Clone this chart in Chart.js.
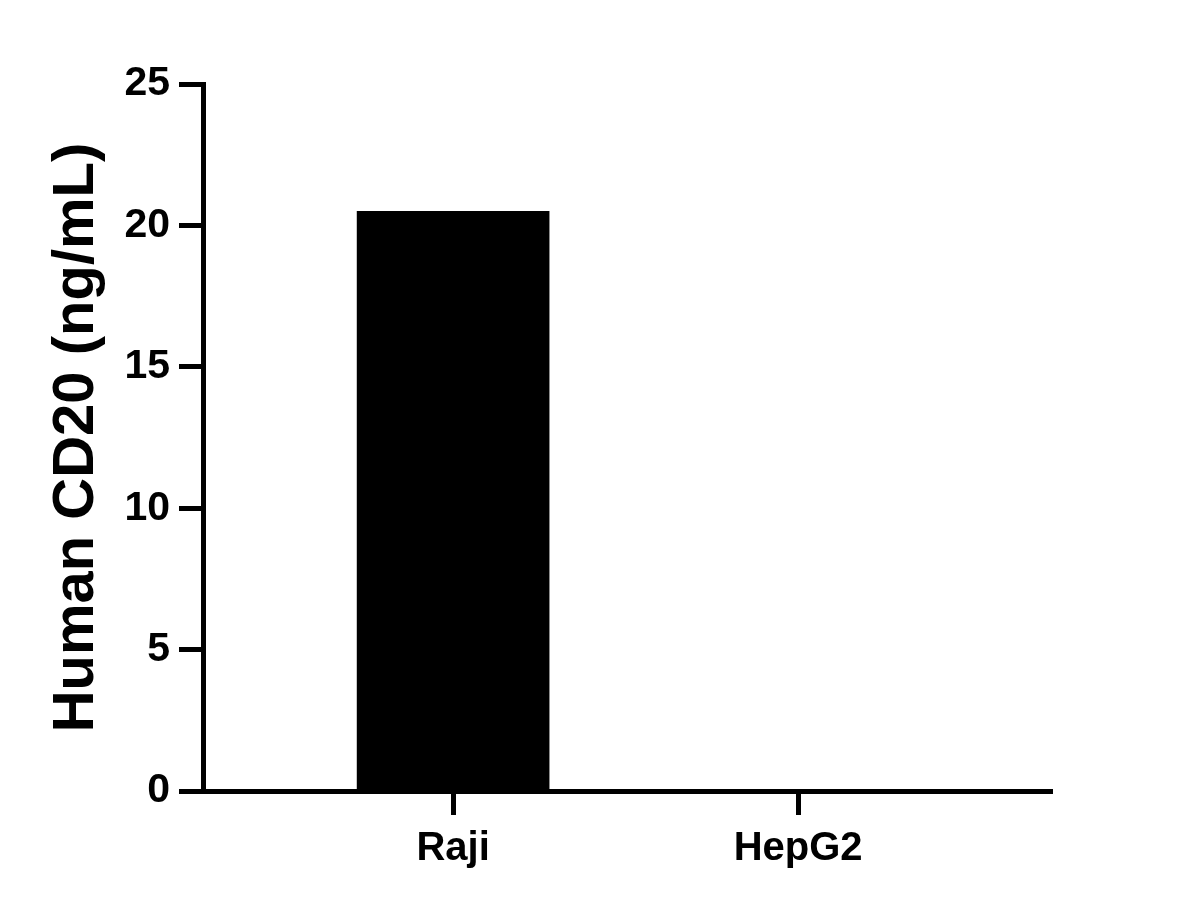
<!DOCTYPE html>
<html>
<head>
<meta charset="utf-8">
<script src="https://cdn.jsdelivr.net/npm/chart.js@4.4.1/dist/chart.umd.min.js"></script>
<style>
  html, body { margin: 0; padding: 0; background: #fff; }
  #wrap { width: 1188px; height: 908px; }
</style>
</head>
<body>
<div id="wrap"><canvas id="cd20Chart" width="1188" height="908"></canvas></div>
<script>
// Dữ liệu của biểu đồ
const categories = ['Raji', 'HepG2'];
const cd20Values = [20.5, 0];
const yTicks = [0, 5, 10, 15, 20, 25];

const FONT = "'Liberation Sans', Arial, sans-serif";

document.addEventListener('DOMContentLoaded', function () {
    const ctx = document.getElementById('cd20Chart');
    const points = categories.map(function (c, i) { return { x: i, y: cd20Values[i] }; });

    new Chart(ctx.getContext('2d'), {
        type: 'bar',
        data: {
            datasets: [{
                label: 'Human CD20 (ng/mL)',
                data: points,
                backgroundColor: '#000000',
                borderWidth: 0,
                barThickness: 192
            }]
        },
        options: {
            responsive: false,
            animation: false,
            layout: { padding: { left: 0, top: 84, right: 136, bottom: 0 } },
            plugins: { legend: { display: false }, tooltip: { enabled: false } },
            scales: {
                x: {
                    type: 'linear',
                    offset: false,
                    bounds: 'data',
                    min: -0.725,
                    max: 1.736,
                    afterBuildTicks: function (scale) {
                        scale.ticks = categories.map(function (c, i) { return { value: i }; });
                    },
                    afterFit: function (scale) { scale.height = 117; },
                    border: { display: true, color: '#000', width: 5 },
                    grid: { offset: false, drawOnChartArea: false, drawTicks: true, tickLength: 24, tickWidth: 5, color: '#000' },
                    ticks: {
                        color: '#000',
                        padding: 10,
                        maxRotation: 0,
                        font: { family: FONT, size: 40, weight: 'bold' },
                        callback: function (value) { return categories[value]; }
                    }
                },
                y: {
                    min: 0,
                    max: 25,
                    afterBuildTicks: function (scale) {
                        scale.ticks = yTicks.map(function (v) { return { value: v }; });
                    },
                    afterFit: function (scale) { scale.width = 203; },
                    border: { display: true, color: '#000', width: 5 },
                    grid: { drawOnChartArea: false, drawTicks: true, tickLength: 24, tickWidth: 5, color: '#000' },
                    ticks: {
                        color: '#000',
                        padding: 9,
                        font: { family: FONT, size: 41, weight: 'bold' }
                    },
                    title: {
                        display: true,
                        text: 'Human CD20 (ng/mL)',
                        color: '#000',
                        padding: { top: 42, bottom: 0 },
                        font: { family: FONT, size: 58, weight: 'bold' }
                    }
                }
            }
        }
    });
});
</script>
</body>
</html>
